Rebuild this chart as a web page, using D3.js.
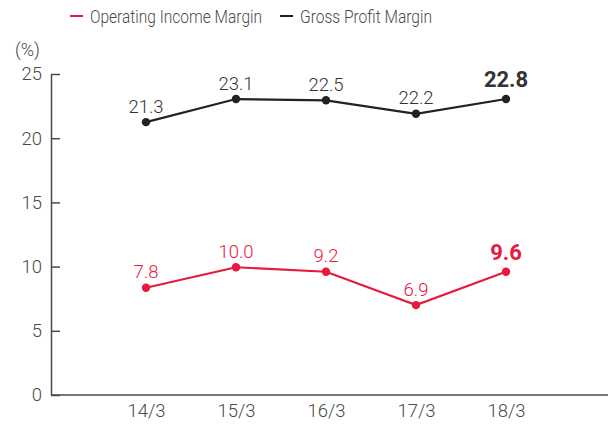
<!DOCTYPE html>
<html>
<head>
<meta charset="utf-8">
<script src="https://cdn.jsdelivr.net/npm/d3@7"></script>
<style>
  body { margin: 0; background: #fff; }
  svg { font-family: Roboto, "DejaVu Sans", sans-serif; }
</style>
</head>
<body>
<svg id="chart" width="608" height="424"></svg>
<script>
// category labels (fiscal year / month)
var years = ["14/3", "15/3", "16/3", "17/3", "18/3"];
// values as plotted in the picture
var grossValues = [21.25, 23.05, 22.95, 21.9, 23.05];
var opValues = [8.35, 9.95, 9.6, 7.0, 9.6];
// value labels as printed
var grossLabels = ["21.3", "23.1", "22.5", "22.2", "22.8"];
var opLabels = ["7.8", "10.0", "9.2", "6.9", "9.6"];
var yTicks = [0, 5, 10, 15, 20, 25];

var svg = d3.select("svg#chart"),
  margin = {top: 74, right: 0, bottom: 29, left: 51},
  width = 608 - margin.left - margin.right,
  height = 424 - margin.top - margin.bottom;

var red = "#e8193c", black = "#222", grey = "#4a4a4a";

var x = d3.scalePoint().domain(years).range([95, 455]),
  y = d3.scaleLinear().domain([0, 25]).range([height, 0]);

var g = svg.append("g")
  .attr("transform", "translate(" + margin.left + "," + margin.top + ")");

// y axis, ticks point inward
var yAxis = g.append("g")
  .call(d3.axisLeft(y).tickValues(yTicks).tickSizeInner(-9).tickSizeOuter(0).tickPadding(9));
yAxis.select(".domain").attr("stroke", grey).attr("stroke-width", 1.5);
yAxis.selectAll(".tick line").attr("stroke", grey).attr("stroke-width", 1.5);
yAxis.selectAll(".tick text")
  .attr("fill", grey).style("font-size", "18.5px").style("font-weight", 300)
  .style("font-family", "Roboto, sans-serif");

// x axis runs to the right edge
var xAxis = g.append("g")
  .attr("transform", "translate(0," + height + ")")
  .call(d3.axisBottom(x).tickSize(0).tickPadding(9));
xAxis.select(".domain").attr("d", "M0,0H" + width).attr("stroke", grey).attr("stroke-width", 1.5);
xAxis.selectAll(".tick text")
  .attr("fill", grey).style("font-size", "18.5px").style("font-weight", 300)
  .style("font-family", "Roboto, sans-serif");

svg.append("text")
  .attr("x", 15).attr("y", 56)
  .attr("fill", grey)
  .style("font-size", "18px").style("font-weight", 300)
  .text("(%)");

var series = [
  {name: "Gross Profit Margin", values: grossValues, labels: grossLabels, color: black},
  {name: "Operating Income Margin", values: opValues, labels: opLabels, color: red}
];

var line = d3.line()
  .x(function(d, i) { return x(years[i]); })
  .y(function(d) { return y(d); });

series.forEach(function(s) {
  var last = s.values.length - 1;

  g.append("path")
    .attr("d", line(s.values))
    .attr("fill", "none")
    .attr("stroke", s.color)
    .attr("stroke-width", 2.2);

  g.selectAll(null)
    .data(s.values)
    .enter().append("circle")
    .attr("cx", function(d, i) { return x(years[i]); })
    .attr("cy", function(d) { return y(d); })
    .attr("r", 4.2)
    .attr("fill", s.color);

  g.selectAll(null)
    .data(s.values)
    .enter().append("text")
    .attr("x", function(d, i) { return x(years[i]); })
    .attr("y", function(d, i) { return y(d) - (i === last ? 12 : 9.5); })
    .attr("text-anchor", "middle")
    .attr("fill", s.color === black ? "#333" : s.color)
    .style("font-size", function(d, i) { return i === last ? "22px" : "18.5px"; })
    .style("font-weight", function(d, i) { return i === last ? 700 : 300; })
    .text(function(d, i) { return s.labels[i]; });
});

// legend
var legend = [
  {name: "Operating Income Margin", color: red, x: 70, w: 172},
  {name: "Gross Profit Margin", color: black, x: 280, w: 132}
];
var lg = svg.append("g").selectAll("g").data(legend).enter().append("g")
  .attr("transform", function(d) { return "translate(" + d.x + ",16)"; });
lg.append("line")
  .attr("x1", 0).attr("x2", 13)
  .attr("stroke", function(d) { return d.color; })
  .attr("stroke-width", 2);
lg.append("text")
  .attr("x", 20).attr("y", 6.5)
  .attr("fill", grey)
  .attr("textLength", function(d) { return d.w; })
  .attr("lengthAdjust", "spacingAndGlyphs")
  .style("font-size", "19px").style("font-weight", 300)
  .text(function(d) { return d.name; });
</script>
</body>
</html>
